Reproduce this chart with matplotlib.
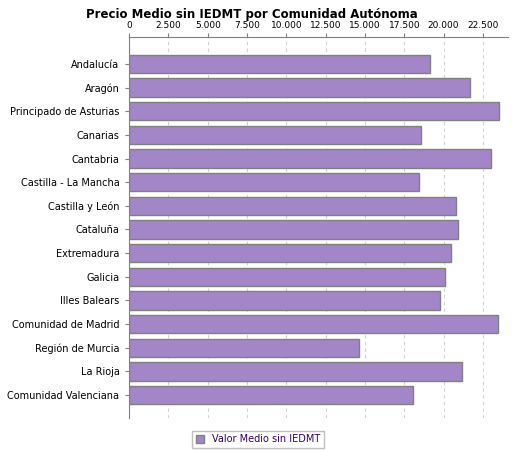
import matplotlib
matplotlib.use("Agg")
import matplotlib.pyplot as plt
from matplotlib.ticker import FuncFormatter

categories = ["Andalucía", "Aragón", "Principado de Asturias", "Canarias", "Cantabria",
              "Castilla - La Mancha", "Castilla y León", "Cataluña", "Extremadura", "Galicia",
              "Illes Balears", "Comunidad de Madrid", "Región de Murcia", "La Rioja",
              "Comunidad Valenciana"]
values = [19120, 21670, 23520, 18550, 23010, 18420, 20780, 20900, 20460, 20080,
          19760, 23450, 14600, 21160, 18040]
ticks = [0, 2500, 5000, 7500, 10000, 12500, 15000, 17500, 20000, 22500]

fig = plt.figure(figsize=(5.25, 4.5), dpi=100)
ax = fig.add_axes([0.246, 0.071, 0.722, 0.847])
n = len(categories)
ypos = list(range(n))
ax.barh(ypos, values, height=0.77, color="#a386c8", edgecolor="#808080", linewidth=1, zorder=3)
ax.set_ylim(n - 1 + 0.97, -1.14)
ax.set_xlim(0, 24110)
ax.set_yticks(ypos)
ax.set_yticklabels(categories, fontsize=7)
ax.xaxis.tick_top()
ax.set_xticks(ticks)
ax.xaxis.set_major_formatter(FuncFormatter(lambda v, p: f"{int(v):,}".replace(",", ".")))
ax.tick_params(axis="x", labelsize=6.5, length=3, color="#808080", pad=2)
ax.tick_params(axis="y", length=3, color="#808080", pad=4)
ax.grid(axis="x", linestyle=(0, (3, 3)), color="#d0d0d0", linewidth=0.8, zorder=0)
for s in ["right", "bottom"]:
    ax.spines[s].set_visible(False)
for s in ["left", "top"]:
    ax.spines[s].set_color("#808080")
fig.text(0.48, 0.982, "Precio Medio sin IEDMT por Comunidad Autónoma", ha="center", va="top",
         fontsize=8.5, fontweight="bold")
ax.legend(["Valor Medio sin IEDMT"], loc="upper center", bbox_to_anchor=(0.34, -0.02),
          fontsize=7, frameon=True, edgecolor="#b0b0b0", fancybox=False,
          handlelength=0.8, handleheight=0.8, labelcolor="#330066")
fig.savefig("out.png", dpi=100)
